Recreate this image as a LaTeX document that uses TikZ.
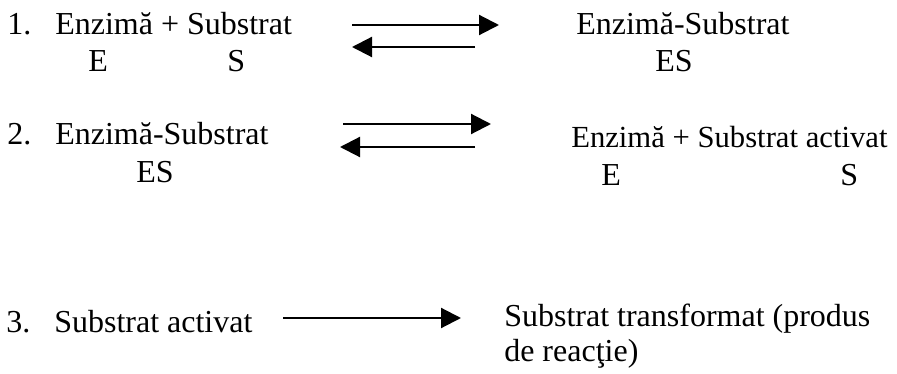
\documentclass[tikz,border=0pt]{standalone}
\usepackage{fontspec}
\setmainfont{Liberation Serif}
\usetikzlibrary{arrows.meta}
\begin{document}
\begin{tikzpicture}[x=0.75pt,y=-0.75pt,
  every node/.style={font=\fontsize{24}{28}\selectfont, inner sep=0pt, anchor=base west},
  rxn/.style={line width=1.6pt, -{Triangle[length=15pt,width=15pt]}}]
\useasboundingbox (0,0) rectangle (897,374);
% 1.
\node (num1) at (7,35) {1.};
\node (left1) at (55,35) {Enzimă + Substrat};
\node (e1) at (88,72) {E};
\node (s1) at (227,72) {S};
\node (right1) at (576,35) {Enzimă-Substrat};
\node (es1) at (655,72) {ES};
\coordinate (f1a) at (352,25);
\coordinate (f1b) at (499,25);
\coordinate (b1a) at (475,47);
\coordinate (b1b) at (352,47);
\draw[rxn] (f1a) -- (f1b);
\draw[rxn] (b1a) -- (b1b);
% 2.
\node (num2) at (7,145) {2.};
\node (left2) at (55,145) {Enzimă-Substrat};
\node (es2) at (136,183) {ES};
\node[font=\fontsize{23}{28}\selectfont] (right2) at (571,148) {Enzimă + Substrat activat};
\node (e2) at (601,186) {E};
\node (s2) at (840,186) {S};
\coordinate (f2a) at (343,124);
\coordinate (f2b) at (491,124);
\coordinate (b2a) at (475,147);
\coordinate (b2b) at (340,147);
\draw[rxn] (f2a) -- (f2b);
\draw[rxn] (b2a) -- (b2b);
% 3.
\node (num3) at (6,332) {3.};
\node (left3) at (54,332) {Substrat activat};
\node (right3) at (504,326) {Substrat transformat (produs};
\node (right3b) at (504,362) {de reacţie)};
\coordinate (f3a) at (283,318);
\coordinate (f3b) at (461,318);
\draw[rxn] (f3a) -- (f3b);
\end{tikzpicture}
\end{document}
